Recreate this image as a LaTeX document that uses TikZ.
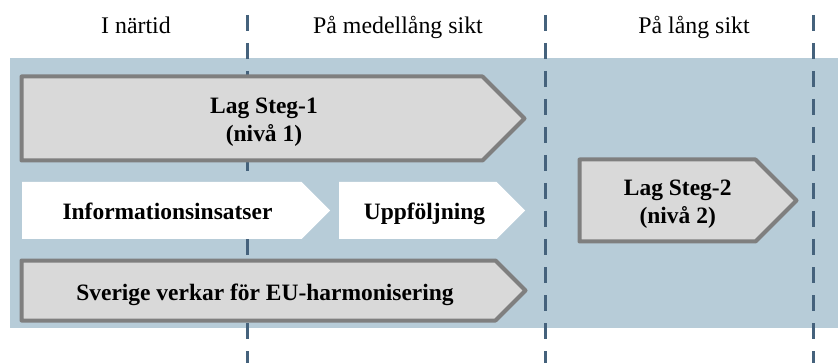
\documentclass[tikz,border=0pt]{standalone}
\usepackage{fontspec}
\setmainfont{Liberation Serif}
\usepackage{tikz}
\usetikzlibrary{positioning}
\usetikzlibrary{shapes.symbols}
\definecolor{bandblue}{HTML}{B7CCD8}
\definecolor{dashblue}{HTML}{45627C}
\definecolor{arrowgray}{HTML}{D9D9D9}
\definecolor{bordergray}{HTML}{7F7F7F}
\tikzstyle{grayarrow}=[signal,signal to=east,signal pointer angle=90,fill=arrowgray,draw=bordergray,line width=3pt,line join=round,inner sep=0pt,outer sep=0pt,anchor=west]
\tikzstyle{whitearrow}=[signal,signal to=east,signal pointer angle=90,fill=white,inner sep=0pt,outer sep=0pt,anchor=west,minimum height=42.75pt]
\tikzstyle{phase} = [font=\fontsize{17.9}{21}\selectfont,anchor=base,inner sep=0pt]
\tikzstyle{arrowtext} = [font=\fontsize{17.6}{21}\selectfont\bfseries,align=center,inner sep=0pt]
\tikzstyle{timeline} = [draw=dashblue,line width=2.25pt,dash pattern=on 12pt off 9pt]

\begin{document}
\begin{tikzpicture}[x=0.75pt,y=-0.75pt]
    \useasboundingbox (0,0) rectangle (838,363);
    % First the light blue band behind everything
    \fill[bandblue] (10,58) rectangle (838,328);

    % Phase headers on top
    \foreach \pos/\name/\label in {{(136,34)/near/I närtid}, {(398,34)/medium/På medellång sikt}, {(694,34)/long/På lång sikt}}
        \node[phase] (\name) at \pos {\label};

    % Dashed lines between the phases
    \foreach \x/\name in {247.5/a, 545/b, 813.7/c} {
        \coordinate (top\name) at (\x,15);
        \coordinate (bot\name) at (\x,363);
        \path[timeline] (top\name) -- (bot\name);
    }

    % Then the arrows
    \node[grayarrow,minimum width=377.25pt,minimum height=63pt] (steg1) at (21.5,118.5) {};
    \node[whitearrow,minimum width=231pt] (info) at (22,210.5) {};
    \node[whitearrow,minimum width=139.5pt] (uppf) at (339,210.5) {};
    \node[grayarrow,minimum width=378pt,minimum height=45pt] (eu) at (21.5,290.5) {};
    \node[grayarrow,minimum width=162.75pt,minimum height=61.5pt] (steg2) at (579.5,200.5) {};

    % and their texts
    \node[arrowtext] (steg1text) at (264,122.4) {Lag Steg-1\\(nivå 1)};
    \node[arrowtext,anchor=base] (infotext) at (167.5,220) {Informationsinsatser};
    \node[arrowtext,anchor=base] (uppftext) at (424.5,220) {Uppföljning};
    \node[arrowtext,anchor=base] (eutext) at (265,300) {Sverige verkar för EU-harmonisering};
    \node[arrowtext] (steg2text) at (677.7,204) {Lag Steg-2\\(nivå 2)};
\end{tikzpicture}
\end{document}
